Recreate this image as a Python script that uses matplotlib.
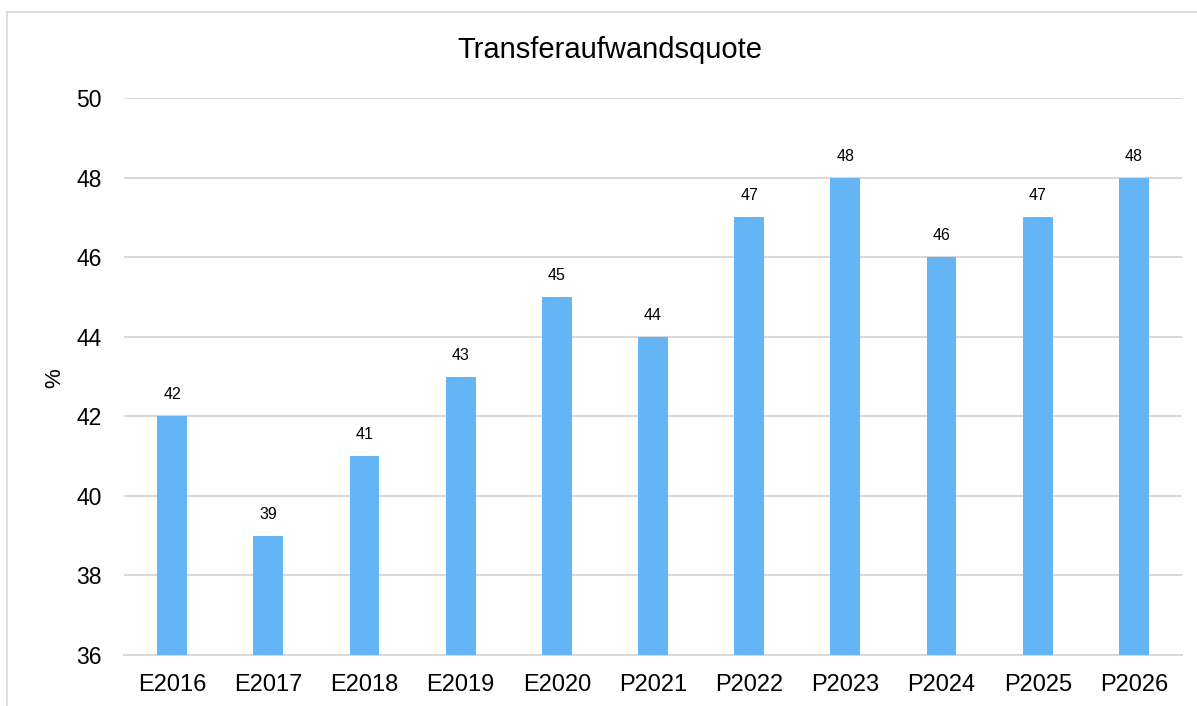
import matplotlib
matplotlib.use("Agg")
import matplotlib.pyplot as plt
from matplotlib.patches import Rectangle

plt.rcParams['font.family'] = ['Liberation Sans', 'DejaVu Sans']

categories = ["E2016", "E2017", "E2018", "E2019", "E2020", "P2021",
              "P2022", "P2023", "P2024", "P2025", "P2026"]
values = [42, 39, 41, 43, 45, 44, 47, 48, 46, 47, 48]
yticks = [36, 38, 40, 42, 44, 46, 48, 50]

W, H = 1197, 706
fig = plt.figure(figsize=(W / 100, H / 100), dpi=100)
fig.patch.set_facecolor("white")

# outer chart border (partially cut at right/bottom)
fig.patches.append(Rectangle((7 / W, -0.05), 1.2, 1 - 12 / H + 0.05,
                             transform=fig.transFigure, fill=False,
                             edgecolor="#d9d9d9", linewidth=1.2))

ax = fig.add_axes([124 / W, 1 - 655 / H, (1182 - 124) / W, (655 - 98) / H])
x = list(range(len(categories)))
bars = ax.bar(x, values, width=0.31, color="#64b5f6", zorder=3)
ax.set_xlim(-0.5, len(categories) - 0.5)
ax.set_ylim(36, 50)
ax.set_yticks(yticks)
ax.set_xticks(x)
ax.set_xticklabels(categories, fontsize=17)
ax.tick_params(axis="y", labelsize=16.5, length=0, pad=16)
ax.tick_params(axis="x", length=0, pad=13.5)
ax.grid(axis="y", color="#d9d9d9", linewidth=1.5, zorder=0)
for s in ["top", "right", "left"]:
    ax.spines[s].set_visible(False)
ax.spines["bottom"].set_color("#d9d9d9")
ax.spines["bottom"].set_linewidth(1.5)

for xi, v in zip(x, values):
    ax.annotate(str(v), (xi, v), xytext=(0, 10), textcoords="offset points",
                ha="center", va="bottom", fontsize=11.5)

fig.text(55 / W, 1 - 378 / H, "%", rotation=90, fontsize=16,
         ha="center", va="center")
fig.text(610 / W, 1 - 50 / H, "Transferaufwandsquote", fontsize=21,
         ha="center", va="center")

fig.savefig("out.png", dpi=100)
